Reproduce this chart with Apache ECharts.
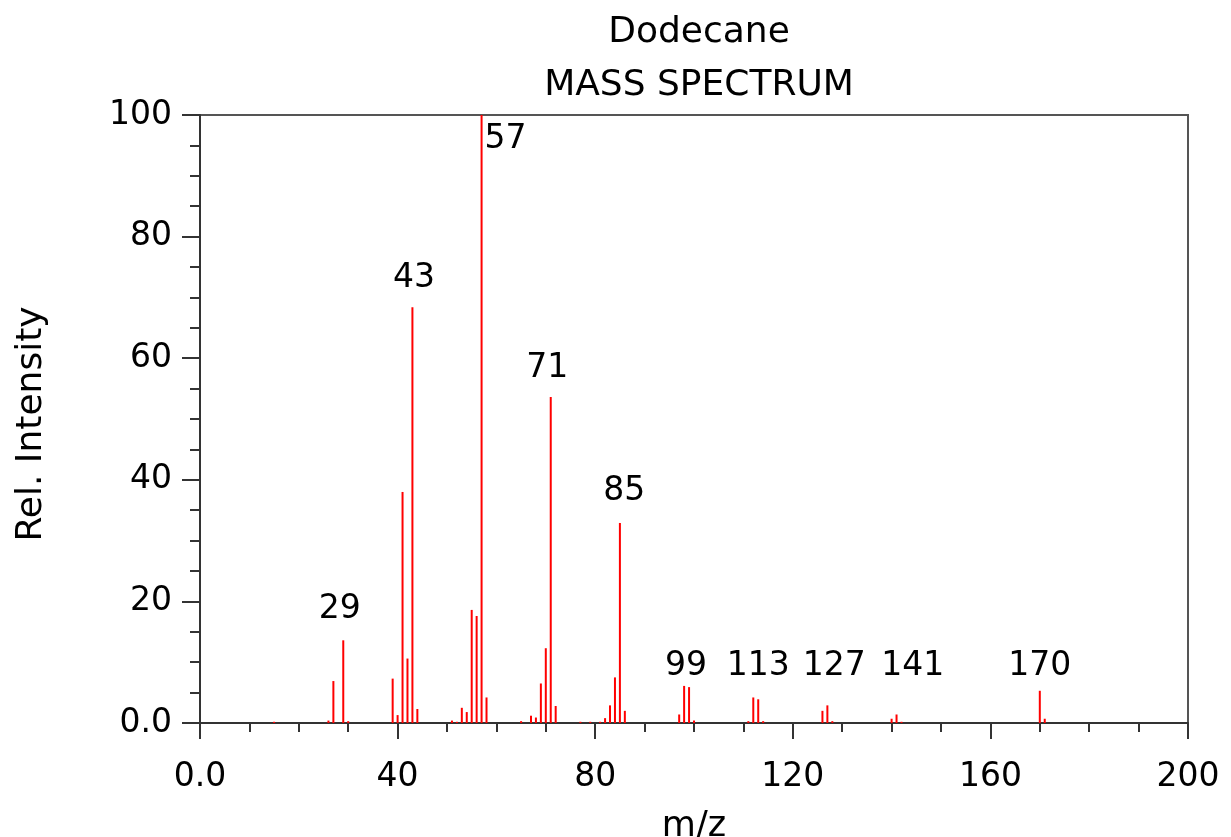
<!DOCTYPE html>
<html>
<head>
<meta charset="utf-8">
<script src="https://cdn.jsdelivr.net/npm/echarts@6/dist/echarts.min.js"></script>
<style>
html,body{margin:0;padding:0;background:#fff;}
#chart{width:1231px;height:837px;}
</style>
</head>
<body>
<div id="chart"></div>
<script>
// m/z values and relative intensities
const mz = [15, 26, 27, 29, 30, 39, 40, 41, 42, 43, 44, 51, 52, 53, 54, 55, 56, 57, 58,
            65, 67, 68, 69, 70, 71, 72, 77, 79, 81, 82, 83, 84, 85, 86,
            97, 98, 99, 100, 111, 112, 113, 114, 126, 127, 128, 140, 141, 142, 170, 171];
const intensity = [0.2, 0.4, 6.9, 13.6, 0.3, 7.3, 1.3, 38.0, 10.6, 68.4, 2.3, 0.4, 0.2, 2.5, 1.8, 18.6, 17.6, 100, 4.2,
                   0.3, 1.2, 0.9, 6.5, 12.3, 53.6, 2.8, 0.2, 0.2, 0.2, 0.8, 2.9, 7.5, 32.9, 2.0,
                   1.4, 6.1, 5.9, 0.4, 0.3, 4.2, 3.9, 0.3, 2.0, 2.9, 0.3, 0.7, 1.4, 0.2, 5.3, 0.7];
// annotated peaks, and where (in m/z and intensity units) each annotation is anchored
const labelMz = [29, 43, 57, 71, 85, 99, 113, 127, 141, 170];
const labelAtMz = [28.3, 43.3, 57, 70.3, 85.9, 98.4, 113, 128.4, 144.3, 170];
const labelAtLevel = [19.4, 73.7, 96.5, 59.0, 38.7, 9.9, 9.9, 9.9, 9.9, 9.9];
const titleText = 'Dodecane';
const subTitleText = 'MASS SPECTRUM';
const xName = 'm/z';
const yName = 'Rel. Intensity';

const FONT = 'DejaVu Sans';
const chart = echarts.init(document.getElementById('chart'), null, {renderer: 'canvas'});

const barData = mz.map((m, i) => [m, intensity[i]]);
const labelData = labelMz.map((m, i) => {
  const item = {value: [labelAtMz[i], labelAtLevel[i]], name: String(m)};
  if (m === 57) {
    item.label = {position: [3, 0], align: 'left', verticalAlign: 'middle', offset: [0, 3]};
  }
  return item;
});

const option = {
  backgroundColor: '#ffffff',
  animation: false,
  title: [
    {text: titleText, left: 694, top: 10, textAlign: 'center',
     textStyle: {fontFamily: FONT, fontSize: 36, fontWeight: 'normal', color: '#000'}},
    {text: subTitleText, left: 694, top: 63, textAlign: 'center',
     textStyle: {fontFamily: FONT, fontSize: 36, fontWeight: 'normal', color: '#000'}}
  ],
  grid: {
    left: 200, right: 43, top: 115, bottom: 114,
    containLabel: false, outerBoundsMode: 'none',
    show: true, borderColor: '#555', borderWidth: 2, backgroundColor: 'transparent'
  },
  xAxis: {
    type: 'value', min: 0, max: 200, interval: 40,
    name: xName, nameLocation: 'middle', nameGap: 86,
    nameTextStyle: {fontFamily: FONT, fontSize: 35, color: '#000'},
    axisLine: {show: true, onZero: false, lineStyle: {color: '#333', width: 2}},
    axisTick: {show: true, length: 16, lineStyle: {color: '#333', width: 2}},
    minorTick: {show: true, splitNumber: 4, length: 9, lineStyle: {color: '#333', width: 2}},
    axisLabel: {fontFamily: FONT, fontSize: 33, color: '#000', margin: 38,
                formatter: v => v === 0 ? '0.0' : String(v)},
    splitLine: {show: false}
  },
  yAxis: {
    type: 'value', min: 0, max: 100, interval: 20,
    name: yName, nameLocation: 'middle', nameGap: 150, nameRotate: 90,
    nameTextStyle: {fontFamily: FONT, fontSize: 36, color: '#000', padding: [0, 10, 0, 0]},
    axisLine: {show: true, onZero: false, lineStyle: {color: '#333', width: 2}},
    axisTick: {show: true, length: 18, lineStyle: {color: '#333', width: 2}},
    minorTick: {show: true, splitNumber: 4, length: 10, lineStyle: {color: '#333', width: 2}},
    axisLabel: {fontFamily: FONT, fontSize: 33, color: '#000', margin: 28,
                formatter: v => v === 0 ? '0.0' : String(v)},
    splitLine: {show: false}
  },
  series: [
    {
      type: 'bar',
      data: barData,
      barWidth: 2,
      itemStyle: {color: '#ff0000'},
      silent: true
    },
    {
      type: 'scatter',
      data: labelData,
      symbolSize: 0,
      silent: true,
      itemStyle: {color: '#000', opacity: 1},
      label: {
        show: true, position: [0, 0], align: 'center', verticalAlign: 'middle',
        offset: [0, 4],
        formatter: p => p.name,
        fontFamily: FONT, fontSize: 33, color: '#000000', opacity: 1
      },
      z: 5
    }
  ]
};
chart.setOption(option);
</script>
</body>
</html>
